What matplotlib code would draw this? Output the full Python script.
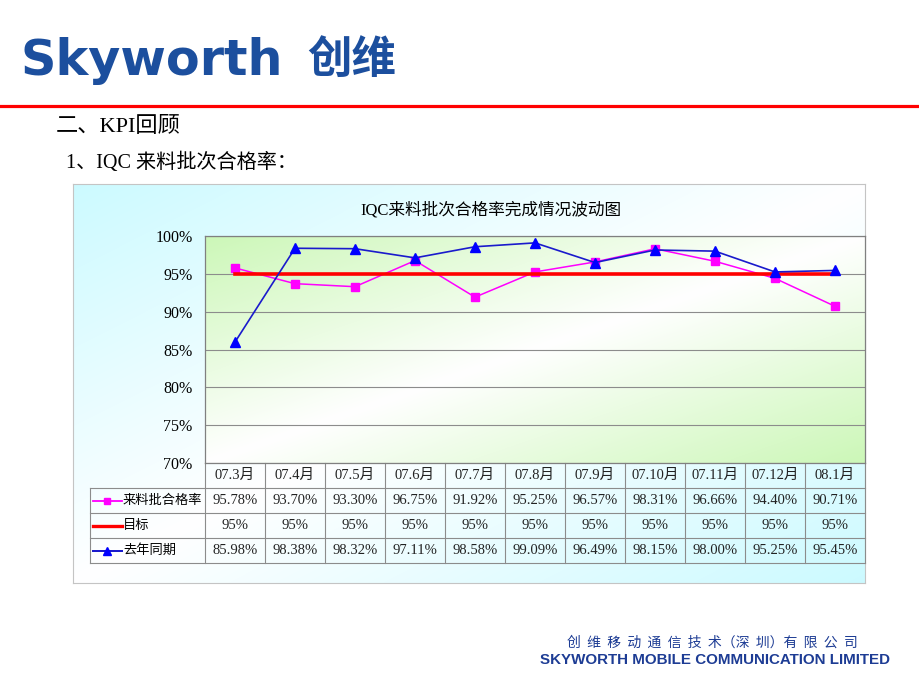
import numpy as np
import matplotlib
matplotlib.use('Agg')
import matplotlib.pyplot as plt
from matplotlib.lines import Line2D
from matplotlib.transforms import blended_transform_factory

# ---------------- data ----------------
months = ['07.3月', '07.4月', '07.5月', '07.6月', '07.7月', '07.8月',
          '07.9月', '07.10月', '07.11月', '07.12月', '08.1月']
incoming_rate = [95.78, 93.70, 93.30, 96.75, 91.92, 95.25, 96.57, 98.31, 96.66, 94.40, 90.71]
target_rate = [95, 95, 95, 95, 95, 95, 95, 95, 95, 95, 95]
last_year_rate = [85.98, 98.38, 98.32, 97.11, 98.58, 99.09, 96.49, 98.15, 98.00, 95.25, 95.45]
y_ticks = [70, 75, 80, 85, 90, 95, 100]
series_names = ['来料批合格率', '目标', '去年同期']
chart_title = 'IQC来料批次合格率完成情况波动图'

# ---------------- layout helpers ----------------
W, H = 920, 690
fig = plt.figure(figsize=(9.2, 6.9), dpi=100)
fig.patch.set_facecolor('white')


def fx(px):
    return px / W


def fy(py):
    return 1 - py / H


SERIF = ['Liberation Serif', 'Noto Sans CJK SC']
CJK = ['Noto Sans CJK SC', 'DejaVu Sans']
LOGO_BLUE = '#1c4f9e'
FOOT_BLUE = '#1d3c94'


def diag_grad(color, n=256):
    xs = np.linspace(0, 1, n)
    X, Y = np.meshgrid(xs, xs)
    t = np.abs(X + Y - 1)
    c = np.array(color)
    return (1 - t)[..., None] * np.ones(3) + t[..., None] * c

# ---------------- header ----------------
fig.text(fx(21), fy(75), 'Skyworth', family=['DejaVu Sans'], weight='bold',
         fontsize=35.5, color=LOGO_BLUE, ha='left', va='baseline')
fig.text(fx(307), fy(73), '创维', family=CJK, weight='bold',
         fontsize=32, color=LOGO_BLUE, ha='left', va='baseline')
fig.add_artist(Line2D([0, 1], [fy(105.5)] * 2, transform=fig.transFigure,
                      color='#ff0000', lw=2.3))
fig.text(fx(56), fy(127), '二、KPI回顾', family=SERIF, fontsize=16,
         ha='left', va='center', color='black')
fig.text(fx(66), fy(163), '1、IQC 来料批次合格率：', family=SERIF, fontsize=14.5,
         ha='left', va='center', color='black')

# ---------------- chart frame ----------------
bg = fig.add_axes([fx(73), fy(583), fx(865) - fx(73), fy(184) - fy(583)])
bg.imshow(diag_grad((0.80, 0.98, 1.0)), extent=[0, 1, 0, 1], aspect='auto',
          interpolation='bilinear')
bg.set_xlim(0, 1)
bg.set_ylim(0, 1)
bg.set_xticks([])
bg.set_yticks([])
for s in bg.spines.values():
    s.set_color('#c4c4c4')
    s.set_linewidth(0.8)

fig.text(fx(491), fy(210), chart_title, family=SERIF, fontsize=12,
         ha='center', va='center', color='black')

# ---------------- plot area ----------------
ax = fig.add_axes([fx(205), fy(463), fx(865) - fx(205), fy(236) - fy(463)])
ax.imshow(diag_grad((0.80, 0.97, 0.72)), extent=[0, 1, 0, 1], transform=ax.transAxes,
          aspect='auto', zorder=0, interpolation='bilinear')
x = np.arange(len(months))
ax.set_xlim(-0.5, len(months) - 0.5)
ax.set_ylim(y_ticks[0], y_ticks[-1])
ax.set_yticks(y_ticks)
ax.set_yticklabels([f'{v}%' for v in y_ticks], family=SERIF, fontsize=11.5)
ax.set_xticks([])
ax.tick_params(axis='y', length=0, pad=9)
ax.yaxis.grid(True, color='#8c8c8c', lw=0.8)
ax.set_axisbelow(True)
for s in ax.spines.values():
    s.set_color('#808080')
    s.set_linewidth(0.9)

styles = [
    dict(color='#ff00ff', lw=1.1, marker='s', ms=5.5, mfc='#ff00ff', mec='#ff00ff'),
    dict(color='#ff0000', lw=2.6, marker=None),
    dict(color='#1a1acc', lw=1.2, marker='^', ms=6.5, mfc='#0000ff', mec='#0000ff'),
]
series = [incoming_rate, target_rate, last_year_rate]
for vals, st, z in zip(series, styles, [3, 3.5, 4]):
    ax.plot(x, vals, zorder=z, clip_on=False, **st)

# ---------------- data table ----------------
trans = blended_transform_factory(ax.transData, ax.transAxes)
rh = 25 / 227            # row height in axes fraction
col_px = 60              # column width in pixels
xl = -0.5 - 115 / col_px  # left edge of legend column
gc = '#8c8c8c'
n = len(months)

for k in range(1, 5):
    ax.plot([xl, n - 0.5], [-k * rh] * 2, transform=trans, clip_on=False,
            color=gc, lw=0.8)
for k in range(n + 1):
    ax.plot([k - 0.5] * 2, [0, -4 * rh], transform=trans, clip_on=False,
            color=gc, lw=0.8)
ax.plot([xl, xl], [-rh, -4 * rh], transform=trans, clip_on=False, color=gc, lw=0.8)

for i, m in enumerate(months):
    ax.text(i, -0.5 * rh, m, transform=trans, ha='center', va='center',
            family=SERIF, fontsize=10.5, color='#222222')

fmts = ['{:.2f}%', '{:.0f}%', '{:.2f}%']
for r, (name, vals, st, fmt) in enumerate(zip(series_names, series, styles, fmts)):
    yc = -(r + 1.5) * rh
    x0, x1 = xl + 3 / col_px, xl + 32 / col_px
    ax.plot([x0, x1], [yc, yc], transform=trans, clip_on=False,
            color=st['color'], lw=min(st['lw'] * 1.2, 2.4))
    if st['marker']:
        ax.plot([(x0 + x1) / 2], [yc], transform=trans, clip_on=False,
                marker=st['marker'], ms=st['ms'] * 0.8, color=st['mfc'], ls='none')
    ax.text(xl + 33 / col_px, yc, name, transform=trans, ha='left', va='center',
            family=CJK, fontsize=9.5, color='black')
    for i, v in enumerate(vals):
        ax.text(i, yc, fmt.format(v), transform=trans, ha='center', va='center',
                family=SERIF, fontsize=10.5, color='#222222')

# ---------------- footer ----------------
fig.text(fx(858), fy(643), '创  维  移  动  通  信  技  术（深  圳）有  限  公  司', family=CJK,
         fontsize=10, color=FOOT_BLUE, ha='right', va='center')
fig.text(fx(890), fy(660), 'SKYWORTH MOBILE COMMUNICATION LIMITED',
         family=['Liberation Sans'], weight='bold', fontsize=10.9,
         color=FOOT_BLUE, ha='right', va='center')

fig.savefig('out.png', dpi=100, facecolor='white')
